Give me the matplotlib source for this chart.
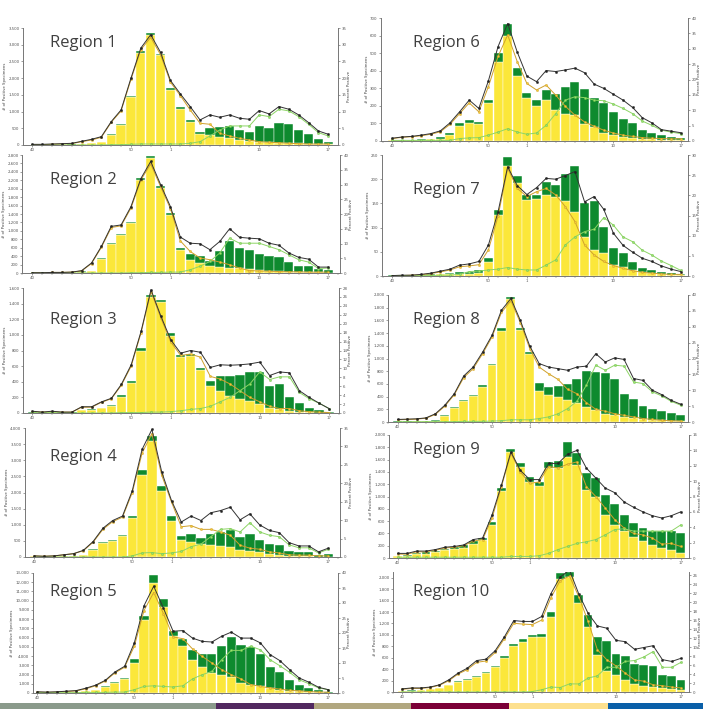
import matplotlib.pyplot as plt
import numpy as np
from matplotlib.patches import Rectangle
from matplotlib.ticker import FuncFormatter, MultipleLocator, FixedLocator

W, H = 703, 709

# weeks 40..53 and 1..17 (31 weeks)
week_ticks = [0, 10, 14, 23, 30]
week_labels = ['40', '50', '1', '10', '17']

# ---- data (counts = bar tops, flu_a = top of yellow part) ----
r1_total = [5, 5, 8, 10, 15, 30, 70, 100, 330, 620, 1480, 2800, 3350, 2730, 1700, 1150, 750, 400, 520, 550, 570, 450, 400, 570, 520, 670, 620, 450, 320, 170, 100]
r1_flu_a = [4, 4, 6, 8, 12, 25, 60, 85, 310, 590, 1430, 2740, 3300, 2680, 1640, 1090, 700, 340, 300, 250, 200, 150, 110, 100, 80, 70, 60, 50, 40, 30, 20]
r1_pct = [0.2, 0.2, 0.3, 0.4, 0.5, 1.1, 1.7, 2.5, 7, 10.5, 20, 29, 33, 27.7, 19.3, 15.3, 11.5, 7.5, 9, 8.3, 9, 8, 7.7, 10.3, 9.3, 11.5, 10.7, 9, 6.7, 4.2, 3.2]
r1_pct_a = [0.1, 0.1, 0.2, 0.3, 0.4, 1.0, 1.5, 2.3, 6.8, 10.2, 19.6, 28.5, 32.2, 27, 18.8, 14.8, 10.5, 6.5, 6.2, 3.5, 2.7, 2, 1.5, 1, 0.8, 0.7, 0.5, 0.4, 0.3, 0.3, 0.3]
r1_pct_b = [0, 0, 0, 0, 0, 0, 0, 0, 0.1, 0.1, 0.2, 0.3, 0.3, 0.3, 0.3, 0.3, 0.5, 1.0, 2.7, 4.5, 5.7, 5.7, 5.7, 9, 8.5, 10.7, 10.2, 8.5, 6.2, 3.7, 2.7]

r2_total = [10, 10, 15, 20, 30, 40, 55, 355, 710, 920, 1220, 2250, 2780, 2060, 1420, 590, 450, 395, 275, 530, 750, 590, 545, 450, 395, 370, 260, 160, 175, 95, 65]
r2_flu_a = [8, 8, 12, 16, 25, 35, 48, 335, 690, 895, 1190, 2200, 2740, 2010, 1380, 540, 315, 240, 160, 150, 130, 110, 90, 70, 55, 45, 35, 25, 20, 15, 10]
r2_pct = [0.1, 0.1, 0.2, 0.2, 0.3, 0.8, 3.4, 9, 15.8, 16.3, 22.5, 32, 37.8, 30, 22.5, 12.2, 10.1, 9.9, 7.9, 10.7, 15, 12.1, 11.8, 11.6, 10.1, 9.4, 6.8, 5.3, 4.7, 2, 2]
r2_pct_a = [0.1, 0.1, 0.2, 0.2, 0.3, 0.7, 3.2, 8.7, 15.4, 16, 22, 31.5, 37, 29.3, 21.8, 10.9, 7.3, 5.1, 4.5, 3.7, 2.8, 1.7, 0.8, 0.7, 0.6, 0.5, 0.4, 0.4, 0.3, 0.3, 0.3]
r2_pct_b = [0, 0, 0, 0, 0, 0, 0, 0, 0, 0, 0.1, 0.1, 0.2, 0.2, 0.3, 0.3, 1.1, 2.3, 3.9, 6.8, 11.8, 10.1, 10.1, 10.1, 9, 7.9, 6.2, 4.5, 3.7, 1.5, 1.7]

r3_total = [15, 8, 10, 8, 8, 40, 45, 70, 100, 225, 405, 830, 1515, 1450, 1025, 745, 755, 570, 405, 470, 480, 490, 525, 530, 340, 365, 205, 130, 70, 35, 10]
r3_flu_a = [5, 5, 7, 5, 5, 35, 40, 62, 90, 210, 385, 800, 1480, 1415, 990, 720, 730, 545, 340, 280, 220, 180, 150, 110, 70, 45, 30, 15, 10, 5, 3]
r3_pct = [0.4, 0.2, 0.4, 0.2, 0.2, 1.4, 1.4, 2.5, 3.3, 6.4, 10.8, 18.3, 27.6, 21.7, 16.4, 13.4, 14, 13.6, 10.2, 10.8, 10.7, 10.8, 11, 11.4, 8.4, 9.2, 9, 5, 3.5, 2.2, 1]
r3_pct_a = [0.3, 0.2, 0.3, 0.2, 0.2, 1.3, 1.3, 2.4, 3.2, 6.2, 10.5, 18, 27.2, 21.3, 15.9, 12.9, 13.2, 12.5, 8.2, 7.6, 6.5, 5, 3.5, 2.5, 1.5, 1, 1, 0.5, 0.3, 0.2, 0.1]
r3_pct_b = [0.1, 0, 0.1, 0, 0, 0, 0, 0, 0, 0.1, 0.1, 0.1, 0.2, 0.2, 0.3, 0.5, 0.8, 1.0, 1.5, 2.5, 3.5, 5, 6.5, 9.2, 7.5, 8.1, 8.1, 4.6, 3.2, 2.2, 1]

r4_total = [20, 25, 25, 30, 40, 70, 240, 460, 535, 670, 1265, 2700, 3760, 2210, 1265, 640, 700, 585, 720, 790, 845, 615, 720, 515, 390, 360, 175, 155, 155, 60, 90]
r4_flu_a = [18, 22, 22, 27, 36, 63, 225, 440, 510, 640, 1215, 2540, 3600, 2040, 1130, 515, 465, 410, 360, 330, 310, 225, 175, 155, 100, 70, 40, 30, 25, 15, 10]
r4_pct = [0.3, 0.2, 0.3, 0.6, 0.9, 1.8, 4.2, 7.8, 9.9, 11.1, 18, 29.2, 34.6, 23.1, 15.3, 9.5, 11.1, 9.9, 12, 12.6, 13.5, 10.1, 11.7, 8.7, 7.2, 6.6, 3.9, 3, 3, 1.4, 2.4]
r4_pct_a = [0.3, 0.2, 0.3, 0.6, 0.9, 1.7, 4, 7.5, 9.6, 10.8, 17.5, 28.2, 33.5, 22.2, 14.9, 8.2, 8.5, 7.5, 7.5, 6.8, 5.9, 3.2, 2.4, 2.1, 1.4, 1.1, 0.6, 0.5, 0.5, 0.3, 0.3]
r4_pct_b = [0, 0, 0, 0, 0, 0, 0, 0, 0, 0, 0.3, 1.1, 1.2, 0.9, 1.1, 1.5, 2.8, 3.5, 5.5, 7.5, 7.7, 6.8, 9.3, 6.8, 5.9, 5.5, 3.3, 2.5, 2.5, 1.1, 2.1]

r5_total = [40, 40, 50, 60, 100, 180, 360, 720, 1150, 1620, 3720, 8380, 12820, 10180, 6750, 5880, 4620, 4220, 4260, 5050, 6030, 5230, 4980, 4220, 2780, 2240, 1440, 900, 540, 290, 150]
r5_flu_a = [35, 35, 45, 55, 90, 165, 330, 680, 1080, 1530, 3250, 7940, 11910, 9280, 6140, 5130, 3610, 2820, 2170, 1950, 1700, 1080, 900, 720, 540, 360, 250, 180, 110, 70, 40]
r5_pct = [0.4, 0.3, 0.4, 0.6, 0.8, 1.6, 2.6, 4.2, 7, 8.9, 16.7, 29.1, 35.6, 28.3, 20.6, 20.8, 18.3, 17.2, 17, 18.9, 20.3, 18.3, 18.3, 16.7, 12.8, 10.8, 7.8, 5, 3.6, 1.9, 1.1]
r5_pct_a = [0.3, 0.2, 0.3, 0.5, 0.7, 1.4, 2.4, 4, 6.7, 8.6, 15.6, 27.5, 33.5, 26.5, 18.7, 18.1, 14.7, 12.2, 10, 7.8, 6.1, 4.7, 2.8, 2.2, 1.7, 1.3, 0.9, 0.7, 0.5, 0.3, 0.3]
r5_pct_b = [0.1, 0.1, 0.1, 0.1, 0.1, 0.2, 0.2, 0.2, 0.3, 0.3, 1.1, 2.2, 2.4, 2.2, 2, 2.4, 4.7, 6.1, 7.2, 11.1, 14.2, 14.2, 15.6, 14.4, 11.1, 9.1, 6.9, 4.4, 3.1, 1.7, 1.1]

r6_total = [5, 6, 8, 10, 12, 23, 48, 103, 122, 110, 236, 503, 667, 414, 275, 236, 290, 265, 309, 336, 294, 242, 214, 166, 128, 103, 61, 46, 32, 23, 19]
r6_flu_a = [4, 5, 6, 8, 10, 13, 32, 84, 103, 95, 214, 452, 599, 370, 246, 198, 233, 175, 153, 147, 99, 80, 46, 32, 23, 19, 13, 10, 8, 6, 5]
r6_pct = [0.9, 1.3, 1.5, 1.9, 2.4, 3.3, 5.9, 9.5, 13.3, 10.6, 19.6, 30.7, 38.2, 28.9, 21.1, 19.3, 22.9, 22.6, 23.1, 23.7, 22.2, 18.5, 17.1, 15.2, 13.3, 10.9, 7.6, 5.9, 3.7, 3.2, 2.7]
r6_pct_a = [0.8, 1.2, 1.4, 1.7, 2.2, 3, 5.4, 8.9, 12.4, 9.5, 17.7, 27.5, 34.5, 25.8, 18.7, 16.6, 18.2, 14.9, 11.3, 8.4, 6.2, 4.8, 3.5, 2.6, 1.9, 1.5, 1.1, 0.9, 0.8, 0.7, 0.7]
r6_pct_b = [0.2, 0.2, 0.2, 0.2, 0.2, 0.2, 0.2, 0.8, 1, 1.1, 1.9, 2.9, 4, 2.9, 2.2, 2.6, 5.1, 8.9, 13.3, 14.4, 14.1, 13.3, 13.1, 12, 10.6, 8.9, 6.5, 5.1, 3.5, 2.9, 2.4]

r7_total = [2, 2, 3, 3, 4, 5, 6, 8, 9, 12, 37, 136, 245, 207, 167, 167, 195, 188, 210, 228, 150, 154, 101, 57, 47, 28, 16, 12, 9, 6, 4]
r7_flu_a = [1, 1, 2, 2, 3, 4, 4, 5, 5, 6, 28, 126, 228, 192, 157, 160, 167, 164, 154, 133, 81, 54, 47, 23, 18, 12, 9, 6, 4, 3, 2]
r7_pct = [0.1, 0.2, 0.2, 0.4, 0.7, 1.2, 1.7, 2.7, 3, 3.6, 7.7, 15.9, 27.1, 22.4, 20.2, 21.9, 24.2, 24, 24.9, 25.9, 18.4, 19.7, 16.5, 10.6, 7.6, 5.9, 4.4, 3.6, 2.5, 1.7, 1.1]
r7_pct_a = [0.1, 0.1, 0.2, 0.3, 0.6, 1, 1.5, 2.3, 2.5, 2.8, 6.5, 14.8, 26.7, 21.7, 19.7, 20.9, 21.7, 20.1, 17.2, 13.5, 7.7, 5.2, 3.6, 2.6, 1.9, 1.3, 0.9, 0.7, 0.5, 0.4, 0.4]
r7_pct_b = [0, 0.1, 0, 0.1, 0.1, 0.2, 0.2, 0.4, 1.1, 1.2, 1.5, 1.7, 2.1, 1.7, 1.5, 1.5, 2.7, 4, 7.7, 9.7, 11, 11.6, 14.5, 12.6, 9.7, 8.5, 6.4, 5.2, 3.7, 2.6, 1.4]

r8_total = [8, 8, 10, 12, 26, 105, 237, 353, 432, 579, 921, 1474, 1974, 1484, 1105, 621, 553, 563, 605, 684, 800, 790, 779, 684, 447, 368, 253, 210, 168, 142, 105]
r8_flu_a = [7, 7, 9, 10, 22, 95, 222, 335, 410, 555, 890, 1440, 1940, 1450, 1070, 484, 432, 395, 342, 305, 237, 184, 132, 105, 79, 63, 42, 30, 25, 15, 10]
r8_pct = [0.8, 0.9, 1, 1.3, 2.6, 5.3, 8.9, 14.5, 17.3, 22, 27.3, 35.2, 38.9, 32, 23.9, 18.4, 17.3, 16.8, 16.3, 17.3, 17.6, 21.5, 18.9, 20.2, 19.7, 13.7, 13.1, 10, 8.6, 6.8, 5.6]
r8_pct_a = [0.7, 0.8, 0.9, 1.2, 2.4, 5, 8.6, 14, 16.8, 21.5, 26.8, 34.5, 38.2, 31.3, 23.1, 17.3, 15.2, 13.4, 10.3, 8.9, 6.1, 4, 3.4, 2.6, 2.1, 1.6, 1.1, 0.8, 0.5, 0.4, 0.3]
r8_pct_b = [0.1, 0.1, 0.1, 0.1, 0.1, 0.1, 0.1, 0.2, 0.2, 0.2, 0.3, 0.4, 0.7, 0.7, 0.7, 1.1, 1.6, 2.6, 4.2, 6.5, 11.6, 17.9, 16.3, 17.9, 17.6, 12.6, 12.1, 9.5, 8.2, 6.5, 5.3]

r9_total = [38, 54, 81, 92, 119, 151, 173, 205, 270, 324, 584, 1135, 1773, 1540, 1324, 1243, 1567, 1578, 1892, 1703, 1378, 1297, 1027, 876, 703, 568, 486, 443, 443, 443, 405]
r9_flu_a = [25, 35, 60, 70, 95, 125, 145, 170, 235, 290, 540, 1092, 1730, 1486, 1243, 1173, 1470, 1470, 1648, 1513, 1108, 1000, 703, 540, 432, 335, 270, 216, 162, 135, 81]
r9_pct = [0.6, 0.6, 0.9, 0.9, 1.1, 1.4, 1.5, 1.7, 2.4, 2.6, 5.6, 9.5, 13.8, 11.4, 10.2, 10.2, 12.3, 12.3, 13.5, 14, 11.7, 10.4, 9.1, 8.5, 7.3, 6.6, 6, 5.5, 5.2, 5.5, 6]
r9_pct_a = [0.5, 0.5, 0.8, 0.8, 1, 1.3, 1.4, 1.6, 2.2, 2.4, 5.2, 9.3, 13.6, 11.2, 9.7, 9.9, 11.9, 11.7, 12.2, 12.5, 9.3, 8, 6.5, 5, 3.9, 3.2, 3, 2.6, 1.8, 1.9, 1.5]
r9_pct_b = [0.1, 0.1, 0.1, 0.1, 0.1, 0.1, 0.1, 0.1, 0.1, 0.1, 0.1, 0.1, 0.2, 0.2, 0.2, 0.3, 0.6, 1.1, 1.5, 1.9, 2.1, 2.4, 3, 3.7, 3.8, 3.5, 3.5, 3.5, 3.5, 3.5, 4.3]

r10_total = [23, 29, 41, 52, 70, 128, 186, 232, 284, 348, 458, 632, 841, 922, 997, 1014, 1403, 2081, 2095, 1693, 1345, 957, 899, 667, 632, 493, 475, 458, 301, 284, 203]
r10_flu_a = [20, 26, 37, 47, 64, 118, 172, 215, 265, 328, 432, 600, 800, 880, 955, 957, 1316, 1983, 2012, 1559, 1142, 649, 359, 301, 214, 145, 110, 87, 70, 58, 41]
r10_pct = [0.7, 0.9, 0.9, 1.1, 1.6, 2.7, 4.2, 5.3, 7, 7.3, 9.2, 12.3, 15.9, 15.7, 15.7, 16.8, 21.9, 25.6, 27.1, 21.8, 17.5, 14.7, 14.2, 11.5, 11.2, 9.5, 9.9, 10.3, 7.2, 6.8, 7.5]
r10_pct_a = [0.6, 0.8, 0.8, 1, 1.5, 2.5, 4, 5, 6.6, 6.9, 8.8, 11.9, 15.3, 15.1, 15, 16, 21, 24.8, 25.8, 21.2, 15.7, 9.4, 7.2, 5.8, 4.2, 2.7, 2.4, 1.6, 1.4, 1.1, 0.9]
r10_pct_b = [0, 0, 0, 0, 0, 0, 0, 0, 0, 0, 0, 0, 0, 0, 0.1, 0.5, 1.1, 1, 1.8, 1.8, 3.1, 3.6, 5.5, 5.5, 6.8, 7, 7.8, 9, 5.5, 5.5, 6.6]

# axis scales: (left max, left step, right max, right step)
r1_scale = (3500, 500, 35, 5)
r2_scale = (2800, 200, 40, 5)
r3_scale = (1600, 200, 28, 2)
r4_scale = (4000, 500, 35, 5)
r5_scale = (13000, 1000, 40, 5)
r6_scale = (700, 100, 40, 5)
r7_scale = (250, 50, 30, 5)
r8_scale = (2000, 200, 40, 5)
r9_scale = (2000, 200, 16, 2)
r10_scale = (2100, 200, 26.7, 2)

YELLOW = '#FBE73A'
GREEN = '#0E8A2E'
LINE_A = '#CFA02C'
LINE_B = '#8DD565'
GREY = '#777777'

# panel boxes in pixels: left, right, top, bottom(zero line), x of week 40, x of week 17
panels = [
    ('Region 1', r1_total, r1_flu_a, r1_pct, r1_pct_a, r1_pct_b, r1_scale, (23, 338, 28, 145, 32.3, 328.3), (50, 43)),
    ('Region 2', r2_total, r2_flu_a, r2_pct, r2_pct_a, r2_pct_b, r2_scale, (22, 340, 155, 273, 32.3, 328.3), (50, 180)),
    ('Region 3', r3_total, r3_flu_a, r3_pct, r3_pct_a, r3_pct_b, r3_scale, (23, 339, 288, 413, 32.3, 329), (50, 320)),
    ('Region 4', r4_total, r4_flu_a, r4_pct, r4_pct_a, r4_pct_b, r4_scale, (25, 340, 428, 557, 34.3, 328.3), (50, 457)),
    ('Region 5', r5_total, r5_flu_a, r5_pct, r5_pct_a, r5_pct_b, r5_scale, (33, 338, 573, 693, 37.3, 328.3), (50, 592)),
    ('Region 6', r6_total, r6_flu_a, r6_pct, r6_pct_a, r6_pct_b, r6_scale, (381, 688, 18, 141, 392.3, 680.7), (413, 43)),
    ('Region 7', r7_total, r7_flu_a, r7_pct, r7_pct_a, r7_pct_b, r7_scale, (382, 688, 155, 276, 392.3, 680.7), (413, 190)),
    ('Region 8', r8_total, r8_flu_a, r8_pct, r8_pct_a, r8_pct_b, r8_scale, (388, 688, 295, 422, 397.7, 680.7), (413, 320)),
    ('Region 9', r9_total, r9_flu_a, r9_pct, r9_pct_a, r9_pct_b, r9_scale, (389, 689, 435, 558, 397.7, 680.7), (413, 450)),
    ('Region 10', r10_total, r10_flu_a, r10_pct, r10_pct_a, r10_pct_b, r10_scale, (393, 689, 572, 692, 402.3, 681), (413, 592)),
]


def style_axis(ax):
    for side in ['left', 'right', 'bottom']:
        ax.spines[side].set_color(GREY)
        ax.spines[side].set_linewidth(0.6)
    ax.spines['top'].set_visible(False)
    ax.tick_params(labelsize=2.8, length=1.5, width=0.4, colors='#555555', pad=1)


def draw_panel(fig, title, total, flu_a, pct, pct_a, pct_b, scale, box, title_pos):
    L, R, T, B, p0, p30 = box
    ax = fig.add_axes([L / W, 1 - B / H, (R - L) / W, (B - T) / H])
    x = np.arange(len(total))
    total = np.array(total)
    flu_a = np.array(flu_a)

    ax.bar(x, flu_a, width=0.94, color=YELLOW, edgecolor='white', linewidth=0.3)
    ax.bar(x, total - flu_a, bottom=flu_a, width=0.94, color=GREEN, edgecolor='white', linewidth=0.3)

    step = (p30 - p0) / 30
    ax.set_xlim((L - p0) / step, (R - p0) / step)
    lmax, lstep, rmax, rstep = scale
    ax.set_ylim(0, lmax)
    ax.yaxis.set_major_locator(FixedLocator(np.arange(0, lmax + 1, lstep)))
    ax.yaxis.set_major_formatter(FuncFormatter(lambda v, p: '{:,.0f}'.format(v)))
    ax.set_xticks(week_ticks)
    ax.set_xticklabels(week_labels)
    ax.xaxis.set_minor_locator(MultipleLocator(1))
    ax.tick_params(axis='x', which='minor', length=1.2, width=0.3, colors='#555555')
    ax.set_ylabel('# of Positive Specimens', fontsize=2.8, color='#444444', labelpad=1)
    style_axis(ax)

    ax2 = ax.twinx()
    ax2.plot(x, pct_a, color=LINE_A, lw=0.7, marker='o', ms=1.6, mfc='#F3C93A', mec=LINE_A, mew=0.3)
    ax2.plot(x, pct_b, color=LINE_B, lw=0.7, marker='o', ms=1.6, mfc='#9BE070', mec='#6CC048', mew=0.3)
    ax2.plot(x, pct, color='#333333', lw=0.7, marker='o', ms=1.6, mfc='#222222', mec='#222222', mew=0.3)
    ax2.set_ylim(0, rmax)
    ax2.yaxis.set_major_locator(FixedLocator(np.arange(0, rmax + 0.01, rstep)))
    ax2.yaxis.set_major_formatter(FuncFormatter(lambda v, p: '{:g}'.format(v)))
    ax2.set_ylabel('Percent Positive', fontsize=2.8, color='#444444', labelpad=0.5)
    style_axis(ax2)

    fig.text(title_pos[0] / W, 1 - title_pos[1] / H, title, fontsize=12, family='Open Sans',
             color='#404040', ha='left', va='center')


fig = plt.figure(figsize=(W / 100, H / 100), dpi=100)
for p in panels:
    draw_panel(fig, *p)

# coloured strip along the bottom
stripe_edges = [0, 216, 314, 411, 509, 608, 703]
stripe_colors = ['#8A9A8B', '#51285F', '#B1A77F', '#7B0037', '#FDE08E', '#0A5FA8']
for i, c in enumerate(stripe_colors):
    fig.add_artist(Rectangle((stripe_edges[i] / W, 0), (stripe_edges[i + 1] - stripe_edges[i]) / W, 6.3 / H,
                             transform=fig.transFigure, color=c, lw=0))

fig.savefig('out.png', dpi=100)
